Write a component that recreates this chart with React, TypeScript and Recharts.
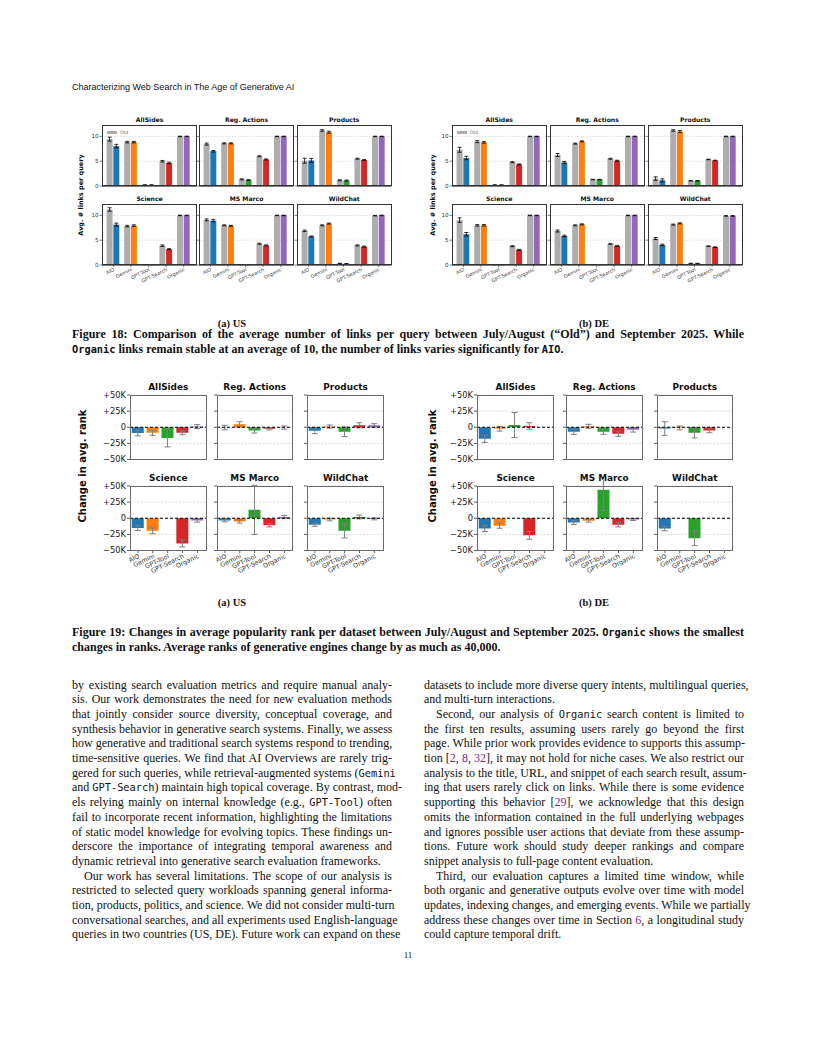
import React from "react";
import {
  BarChart,
  Bar,
  XAxis,
  YAxis,
  CartesianGrid,
  ErrorBar,
  Cell,
  ReferenceLine,
} from "recharts";

// categories and panels shared by both figures
const categories = ["AIO", "Gemini", "GPT-Tool", "GPT-Search", "Organic"];
const datasets = ["AllSides", "Reg. Actions", "Products", "Science", "MS Marco", "WildChat"];
const engineColors = ["#1f77b4", "#ff7f0e", "#2ca02c", "#d62728", "#9467bd"];
const oldColor = "#adadad";

// Figure 18: avg. # links per query, rows = datasets, cols = categories
const linksUsOld = [
  [9.45, 8.85, 0.2, 5.0, 10.0],
  [8.45, 8.6, 1.35, 6.0, 10.0],
  [5.1, 11.2, 1.15, 5.5, 10.0],
  [11.2, 7.85, 0.05, 3.9, 10.0],
  [9.1, 8.0, 0.05, 4.3, 10.0],
  [6.9, 8.0, 0.3, 3.95, 9.95],
];
const linksUsOldErr = [
  [0.4, 0.15, 0.05, 0.15, 0.05],
  [0.2, 0.1, 0.1, 0.1, 0.05],
  [0.5, 0.15, 0.1, 0.1, 0.05],
  [0.35, 0.15, 0.02, 0.15, 0.05],
  [0.2, 0.1, 0.02, 0.1, 0.05],
  [0.15, 0.1, 0.05, 0.1, 0.05],
];
const linksUsNew = [
  [8.05, 8.85, 0.2, 4.65, 10.0],
  [7.0, 8.6, 1.2, 5.35, 10.0],
  [5.15, 10.85, 1.1, 5.25, 10.0],
  [8.15, 7.95, 0.05, 3.2, 10.0],
  [8.95, 7.9, 0.05, 3.95, 10.0],
  [5.75, 8.35, 0.25, 3.7, 10.0],
];
const linksUsNewErr = [
  [0.35, 0.15, 0.05, 0.15, 0.05],
  [0.15, 0.1, 0.1, 0.1, 0.05],
  [0.4, 0.2, 0.1, 0.1, 0.05],
  [0.3, 0.15, 0.02, 0.1, 0.05],
  [0.25, 0.1, 0.02, 0.1, 0.05],
  [0.1, 0.1, 0.05, 0.1, 0.05],
];
const linksDeOld = [
  [7.3, 8.95, 0.2, 4.8, 10.0],
  [6.25, 8.55, 1.3, 5.5, 10.0],
  [1.5, 11.2, 1.05, 5.35, 10.0],
  [9.05, 8.0, 0.05, 3.8, 10.0],
  [6.85, 8.0, 0.05, 4.25, 10.0],
  [5.35, 8.15, 0.3, 3.8, 9.9],
];
const linksDeOldErr = [
  [0.5, 0.2, 0.05, 0.1, 0.05],
  [0.3, 0.1, 0.05, 0.1, 0.05],
  [0.35, 0.15, 0.05, 0.05, 0.05],
  [0.45, 0.15, 0.02, 0.1, 0.05],
  [0.2, 0.1, 0.02, 0.05, 0.05],
  [0.2, 0.1, 0.05, 0.05, 0.05],
];
const linksDeNew = [
  [5.65, 8.8, 0.2, 4.35, 10.0],
  [4.75, 9.0, 1.3, 5.1, 10.0],
  [1.15, 11.0, 1.05, 5.15, 10.0],
  [6.2, 8.0, 0.05, 3.05, 10.0],
  [5.85, 8.2, 0.05, 3.85, 10.0],
  [4.05, 8.4, 0.3, 3.6, 9.9],
];
const linksDeNewErr = [
  [0.35, 0.15, 0.05, 0.1, 0.05],
  [0.2, 0.1, 0.05, 0.1, 0.05],
  [0.3, 0.2, 0.05, 0.05, 0.05],
  [0.35, 0.15, 0.02, 0.1, 0.05],
  [0.15, 0.1, 0.02, 0.1, 0.05],
  [0.15, 0.1, 0.05, 0.05, 0.05],
];
const linksTicks = [0, 5, 10];

// Figure 19: change in avg. popularity rank (thousands)
const rankUs = [
  [-8.8, -8.5, -16.5, -8.5, 1.0],
  [-0.5, 4.5, -5.0, -2.5, -0.5],
  [-5.5, 1.0, -7.0, 3.0, 3.0],
  [-15.0, -19.5, 0, -39.0, -3.5],
  [-3.5, -5.0, 13.0, -11.0, 2.0],
  [-10.0, -2.0, -19.5, 2.0, -1.0],
];
const rankUsErr = [
  [4.5, 4.0, 14.0, 3.0, 3.0],
  [3.5, 4.0, 4.0, 1.5, 2.5],
  [4.5, 2.5, 7.5, 4.0, 2.5],
  [4.0, 4.5, 0, 5.5, 2.5],
  [2.0, 2.5, 38.0, 2.5, 2.5],
  [2.5, 2.0, 11.0, 3.0, 1.5],
];
const rankDe = [
  [-18.0, -2.5, 3.5, 2.0, 0],
  [-7.0, 1.5, -7.0, -10.0, -4.0],
  [-2.0, -1.0, -8.5, -5.0, 0],
  [-16.0, -11.5, 0, -26.5, 0],
  [-6.5, -4.0, 44.0, -10.0, -2.0],
  [-16.0, 0, -31.0, 0, 0],
];
const rankDeErr = [
  [5.5, 3.5, 19.5, 5.0, 3.0],
  [4.0, 3.0, 4.0, 4.0, 3.5],
  [10.5, 3.0, 8.0, 3.5, 3.0],
  [4.5, 4.0, 0, 6.0, 3.0],
  [3.0, 2.0, 32.0, 3.5, 1.5],
  [3.5, 2.0, 11.5, 3.5, 1.0],
];
const rankTicks = [-50, -25, 0, 25, 50];

const chartFont = "DejaVu Sans, sans-serif";
const serif = "Liberation Serif, Times New Roman, serif";
const mono = "DejaVu Sans Mono, monospace";

function LinksPanel({ left, top, title, idx, old, oldErr, cur, curErr, legend }: any) {
  const W = 94.5;
  const H = 61;
  const yW = 20;
  const bottomRow = idx >= 3;
  const firstCol = idx % 3 === 0;
  const xH = bottomRow ? 30 : 2;
  const data = categories.map((name, i) => ({
    name,
    old: old[idx][i],
    oldErr: oldErr[idx][i],
    cur: cur[idx][i],
    curErr: curErr[idx][i],
  }));
  return (
    <>
      <div style={{ position: "absolute", left: left - yW, top, fontFamily: chartFont }}>
        <BarChart
          width={W + yW}
          height={H + xH}
          data={data}
          margin={{ top: 0, right: 0, bottom: 0, left: 0 }}
          barCategoryGap="12%"
          barGap={0.7}
        >
          <CartesianGrid vertical={false} stroke="#c8c8c8" strokeDasharray="1.5 1.5" strokeWidth={0.6} />
          <XAxis
            dataKey="name"
            interval={0}
            height={xH}
            padding={{ left: 2.5, right: 4 }}
            axisLine={{ stroke: "#555", strokeWidth: 1.6 }}
            tickLine={bottomRow ? { stroke: "#333", strokeWidth: 0.6 } : false}
            tickSize={2}
            tickMargin={0.5}
            tick={bottomRow ? { fontSize: 4.9, fill: "#444" } : false}
            angle={-26}
            textAnchor="end"
          />
          <YAxis
            domain={[0, 12.3]}
            ticks={linksTicks}
            interval={0}
            width={yW}
            axisLine={false}
            tickSize={2.5}
            tickMargin={1}
            tickLine={{ stroke: "#333", strokeWidth: 0.6 }}
            tick={{ fontSize: 5.6, fill: "#333" }}
            tickFormatter={(v: number) => (firstCol ? String(v) : "")}
          />
          <Bar dataKey="old" fill={oldColor} isAnimationActive={false}>
            <ErrorBar dataKey="oldErr" width={2} stroke="#000" strokeWidth={0.8} isAnimationActive={false} />
          </Bar>
          <Bar dataKey="cur" isAnimationActive={false}>
            {data.map((d, i) => (
              <Cell key={d.name} fill={engineColors[i]} />
            ))}
            <ErrorBar dataKey="curErr" width={2} stroke="#000" strokeWidth={0.8} isAnimationActive={false} />
          </Bar>
        </BarChart>
      </div>
      <div
        style={{
          position: "absolute",
          left,
          top,
          width: W,
          height: H,
          border: "1.1px solid #333",
          boxSizing: "border-box",
          pointerEvents: "none",
        }}
      />
      <div
        style={{
          position: "absolute",
          left,
          top: top - 9,
          width: W,
          textAlign: "center",
          fontFamily: chartFont,
          fontWeight: "bold",
          fontSize: 6.1,
          lineHeight: "8px",
          color: "#111",
        }}
      >
        {title}
      </div>
      {legend && (
        <div
          style={{
            position: "absolute",
            left: left + 5,
            top: top + 5,
            fontFamily: chartFont,
            fontSize: 4.6,
            color: "#666",
            lineHeight: "5px",
            display: "flex",
            alignItems: "center",
          }}
        >
          <span style={{ display: "inline-block", width: 10, height: 3.5, background: oldColor, marginRight: 3 }} />
          Old
        </div>
      )}
    </>
  );
}

function RankPanel({ left, top, title, idx, vals, errs }: any) {
  const W = 76.5;
  const H = 64.5;
  const yW = 30;
  const padTop = 6;
  const bottomRow = idx >= 3;
  const firstCol = idx % 3 === 0;
  const xH = bottomRow ? 36 : 7;
  const data = categories.map((name, i) => ({
    name,
    v: vals[idx][i],
    e: errs[idx][i],
  }));
  const fmt = (v: number) => (v === 0 ? "0" : (v > 0 ? "+" : "\u2212") + Math.abs(v) + "K");
  return (
    <>
      <div style={{ position: "absolute", left: left - yW, top: top - padTop, fontFamily: chartFont }}>
        <BarChart
          width={W + yW}
          height={H + xH + padTop}
          data={data}
          margin={{ top: padTop, right: 0, bottom: 0, left: 0 }}
          barCategoryGap="8.5%"
        >
          <CartesianGrid vertical={false} stroke="#cfcfcf" strokeDasharray="2 1.5" strokeWidth={0.7} />
          <XAxis
            dataKey="name"
            interval={0}
            height={xH}
            padding={{ left: 0.5, right: 1.7 }}
            axisLine={false}
            tickLine={{ stroke: "#333", strokeWidth: 0.8 }}
            tickSize={2.5}
            tickMargin={0.5}
            tick={bottomRow ? { fontSize: 6.3, fill: "#333" } : false}
            angle={-26}
            textAnchor="end"
          />
          <YAxis
            domain={[-50, 50]}
            allowDataOverflow
            ticks={rankTicks}
            interval={0}
            width={yW}
            axisLine={false}
            tickSize={3}
            tickMargin={1}
            tickLine={{ stroke: "#333", strokeWidth: 0.8 }}
            tick={{ fontSize: 8.3, fill: "#222" }}
            tickFormatter={(v: number) => (firstCol ? fmt(v) : "")}
          />
          <Bar dataKey="v" isAnimationActive={false}>
            {data.map((d, i) => (
              <Cell key={d.name} fill={engineColors[i]} />
            ))}
            <ErrorBar dataKey="e" width={3} stroke="#7f7f7f" strokeWidth={1} isAnimationActive={false} />
          </Bar>
          <ReferenceLine y={0} stroke="#000" strokeDasharray="3 2" strokeWidth={1} />
        </BarChart>
      </div>
      <div
        style={{
          position: "absolute",
          left,
          top,
          width: W,
          height: H,
          border: "1.6px solid #6b6b6b",
          boxSizing: "border-box",
          pointerEvents: "none",
        }}
      />
      <div
        style={{
          position: "absolute",
          left,
          top: top - 13,
          width: W,
          textAlign: "center",
          fontFamily: chartFont,
          fontWeight: "bold",
          fontSize: 8.9,
          lineHeight: "11px",
          color: "#111",
        }}
      >
        {title}
      </div>
    </>
  );
}

function Rich({ text }: { text: string }) {
  const parts = text.split(/(`[^`]*`|\{[^}]*\})/);
  return (
    <>
      {parts.map((p, i) => {
        if (p.startsWith("`"))
          return (
            <span key={i} style={{ fontFamily: mono, fontSize: "0.86em" }}>
              {p.slice(1, -1)}
            </span>
          );
        if (p.startsWith("{"))
          return (
            <span key={i} style={{ color: "#7a1f8a" }}>
              {p.slice(1, -1)}
            </span>
          );
        return <React.Fragment key={i}>{p}</React.Fragment>;
      })}
    </>
  );
}

// lines: "|" prefix = paragraph indent, "$" suffix = last line of paragraph
function TextBlock({ left, top, width, lines, size, lh, bold }: any) {
  return (
    <>
      {lines.map((raw: string, i: number) => {
        const indent = raw.startsWith("|");
        const last = raw.endsWith("$");
        const t = raw.replace(/^\|/, "").replace(/\$$/, "");
        return (
          <div
            key={i}
            style={{
              position: "absolute",
              left,
              top: top + i * lh,
              width,
              fontFamily: serif,
              fontSize: size,
              fontWeight: bold ? "bold" : "normal",
              lineHeight: `${lh}px`,
              height: lh,
              textAlign: "justify",
              textAlignLast: last ? "left" : "justify",
              textIndent: indent ? 12 : 0,
              color: "#111",
              whiteSpace: "nowrap",
              overflow: "visible",
            }}
          >
            <Rich text={t} />
          </div>
        );
      })}
    </>
  );
}

const leftCol = [
  "by existing search evaluation metrics and require manual analy-",
  "sis. Our work demonstrates the need for new evaluation methods",
  "that jointly consider source diversity, conceptual coverage, and",
  "synthesis behavior in generative search systems. Finally, we assess",
  "how generative and traditional search systems respond to trending,",
  "time-sensitive queries. We find that AI Overviews are rarely trig-",
  "gered for such queries, while retrieval-augmented systems (`Gemini`",
  "and `GPT-Search`) maintain high topical coverage. By contrast, mod-",
  "els relying mainly on internal knowledge (e.g., `GPT-Tool`) often",
  "fail to incorporate recent information, highlighting the limitations",
  "of static model knowledge for evolving topics. These findings un-",
  "derscore the importance of integrating temporal awareness and",
  "dynamic retrieval into generative search evaluation frameworks.$",
  "|Our work has several limitations. The scope of our analysis is",
  "restricted to selected query workloads spanning general informa-",
  "tion, products, politics, and science. We did not consider multi-turn",
  "conversational searches, and all experiments used English-language",
  "queries in two countries (US, DE). Future work can expand on these",
];

const rightCol = [
  "datasets to include more diverse query intents, multilingual queries,",
  "and multi-turn interactions.$",
  "|Second, our analysis of `Organic` search content is limited to",
  "the first ten results, assuming users rarely go beyond the first",
  "page. While prior work provides evidence to supports this assump-",
  "tion [{2}, {8}, {32}], it may not hold for niche cases. We also restrict our",
  "analysis to the title, URL, and snippet of each search result, assum-",
  "ing that users rarely click on links. While there is some evidence",
  "supporting this behavior [{29}], we acknowledge that this design",
  "omits the information contained in the full underlying webpages",
  "and ignores possible user actions that deviate from these assump-",
  "tions. Future work should study deeper rankings and compare",
  "snippet analysis to full-page content evaluation.$",
  "|Third, our evaluation captures a limited time window, while",
  "both organic and generative outputs evolve over time with model",
  "updates, indexing changes, and emerging events. While we partially",
  "address these changes over time in Section {6}, a longitudinal study",
  "could capture temporal drift.$",
];

const cap18 = [
  "Figure 18: Comparison of the average number of links per query between July/August (“Old”) and September 2025. While",
  "`Organic` links remain stable at an average of 10, the number of links varies significantly for `AIO`.$",
];
const cap19 = [
  "Figure 19: Changes in average popularity rank per dataset between July/August and September 2025. `Organic` shows the smallest",
  "changes in ranks. Average ranks of generative engines change by as much as 40,000.$",
];

const links18Cols = { us: [102.3, 199.3, 297], de: [452, 550, 648] };
const links18Rows = [125, 204];
const rank19Cols = { us: [130, 216.5, 307.3], de: [477.3, 566, 656.5] };
const rank19Rows = [395, 486];

function YLabel({ x, y, text, size }: any) {
  return (
    <div
      style={{
        position: "absolute",
        left: x - 100,
        top: y - 10,
        width: 200,
        height: 20,
        lineHeight: "20px",
        textAlign: "center",
        transform: "rotate(-90deg)",
        fontFamily: chartFont,
        fontWeight: "bold",
        fontSize: size,
        color: "#111",
      }}
    >
      {text}
    </div>
  );
}

function SubCap({ x, y, text }: any) {
  return (
    <div
      style={{
        position: "absolute",
        left: x - 50,
        top: y - 7,
        width: 100,
        textAlign: "center",
        fontFamily: serif,
        fontSize: 10.5,
        fontWeight: 600,
        lineHeight: "14px",
        color: "#111",
      }}
    >
      {text}
    </div>
  );
}

export default function App() {
  return (
    <div style={{ position: "absolute", left: 0, top: 0, width: 816, height: 1056, background: "#fff" }}>
      <div
        style={{
          position: "absolute",
          left: 72,
          top: 81,
          fontFamily: "Liberation Sans, sans-serif",
          fontSize: 9,
          lineHeight: "12px",
          color: "#111",
        }}
      >
        Characterizing Web Search in The Age of Generative AI
      </div>

      {datasets.map((name, idx) => (
        <LinksPanel
          key={"lu" + name}
          left={links18Cols.us[idx % 3]}
          top={links18Rows[Math.floor(idx / 3)]}
          title={name}
          idx={idx}
          old={linksUsOld}
          oldErr={linksUsOldErr}
          cur={linksUsNew}
          curErr={linksUsNewErr}
          legend={idx === 0}
        />
      ))}
      {datasets.map((name, idx) => (
        <LinksPanel
          key={"ld" + name}
          left={links18Cols.de[idx % 3]}
          top={links18Rows[Math.floor(idx / 3)]}
          title={name}
          idx={idx}
          old={linksDeOld}
          oldErr={linksDeOldErr}
          cur={linksDeNew}
          curErr={linksDeNewErr}
          legend={idx === 0}
        />
      ))}
      <YLabel x={81} y={195} text="Avg. # links per query" size={6.5} />
      <YLabel x={433} y={195} text="Avg. # links per query" size={6.5} />
      <SubCap x={232} y={324} text="(a) US" />
      <SubCap x={594} y={324} text="(b) DE" />
      <TextBlock left={72} top={327} width={672} lines={cap18} size={12} lh={15} bold />

      {datasets.map((name, idx) => (
        <RankPanel
          key={"ru" + name}
          left={rank19Cols.us[idx % 3]}
          top={rank19Rows[Math.floor(idx / 3)]}
          title={name}
          idx={idx}
          vals={rankUs}
          errs={rankUsErr}
        />
      ))}
      {datasets.map((name, idx) => (
        <RankPanel
          key={"rd" + name}
          left={rank19Cols.de[idx % 3]}
          top={rank19Rows[Math.floor(idx / 3)]}
          title={name}
          idx={idx}
          vals={rankDe}
          errs={rankDeErr}
        />
      ))}
      <YLabel x={83} y={466} text="Change in avg. rank" size={10} />
      <YLabel x={433} y={466} text="Change in avg. rank" size={10} />
      <SubCap x={232} y={603} text="(a) US" />
      <SubCap x={594} y={603} text="(b) DE" />
      <TextBlock left={72} top={625} width={672} lines={cap19} size={12} lh={15} bold />

      <TextBlock left={72} top={677.5} width={320} lines={leftCol} size={12} lh={14.7} />
      <TextBlock left={424} top={677.5} width={320} lines={rightCol} size={12} lh={14.7} />

      <div
        style={{
          position: "absolute",
          left: 358,
          top: 949,
          width: 100,
          textAlign: "center",
          fontFamily: serif,
          fontSize: 9,
          lineHeight: "12px",
          color: "#111",
        }}
      >
        11
      </div>
    </div>
  );
}
